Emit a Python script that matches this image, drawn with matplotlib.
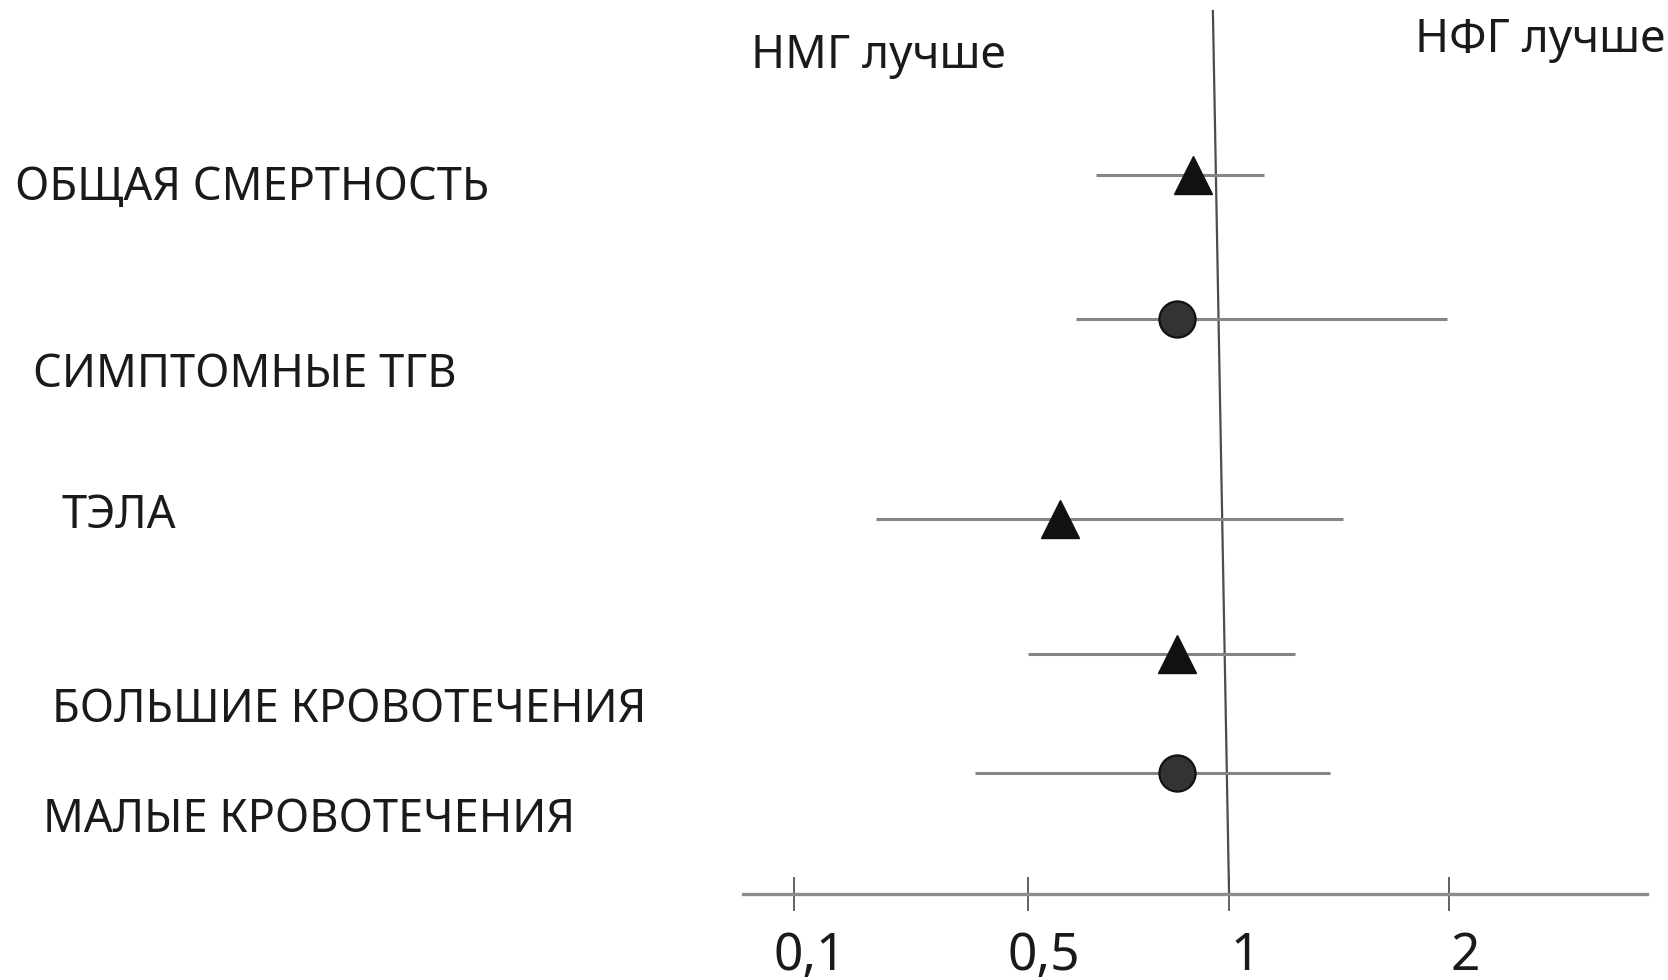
import numpy as np
import matplotlib
matplotlib.use("Agg")
import matplotlib.pyplot as plt
from matplotlib.transforms import ScaledTranslation

plt.rcParams["font.family"] = ["Noto Sans", "DejaVu Sans"]

# data: relative risk with 95% CI
outcomes = [
    "ОБЩАЯ СМЕРТНОСТЬ",
    "СИМПТОМНЫЕ ТГВ",
    "ТЭЛА",
    "БОЛЬШИЕ КРОВОТЕЧЕНИЯ",
    "МАЛЫЕ КРОВОТЕЧЕНИЯ",
]
rr = [0.91, 0.87, 0.58, 0.87, 0.87]
ci_low = [0.67, 0.62, 0.24, 0.50, 0.41]
ci_high = [1.16, 1.99, 1.52, 1.30, 1.46]

tick_values = [0.1, 0.5, 1, 2]
tick_labels = ["0,1", "0,5", "1", "2"]

left_note = "НМГ лучше"
right_note = "НФГ лучше"

# layout (pixels from top of the 1668x980 canvas)
W, H = 1668, 980
row_y = [175, 319, 519, 654, 773]
markers = ["^", "o", "^", "^", "o"]
label_xy = [(15, 200), (33, 387), (61, 528), (52, 722), (43, 832)]
# hand-drawn axis: where each tick sits, in tick-gap units
tick_pos = [0.0, 1.072, 1.993, 3.0]


def _fwd(v):
    # piecewise linear between ticks, extrapolated at the ends
    v = np.asarray(v, dtype=float)
    k = np.asarray(tick_values, dtype=float)
    p = np.asarray(tick_pos, dtype=float)
    out = np.interp(v, k, p)
    out = np.where(v < k[0], p[0] + (v - k[0]) * (p[1] - p[0]) / (k[1] - k[0]), out)
    out = np.where(v > k[-1], p[-1] + (v - k[-1]) * (p[-1] - p[-2]) / (k[-1] - k[-2]), out)
    return out


def _inv(i):
    i = np.asarray(i, dtype=float)
    k = np.asarray(tick_values, dtype=float)
    p = np.asarray(tick_pos, dtype=float)
    out = np.interp(i, p, k)
    out = np.where(i < p[0], k[0] + (i - p[0]) * (k[1] - k[0]) / (p[1] - p[0]), out)
    out = np.where(i > p[-1], k[-1] + (i - p[-1]) * (k[-1] - k[-2]) / (p[-1] - p[-2]), out)
    return out


fig = plt.figure(figsize=(W / 100, H / 100), dpi=100)
ax_x0, ax_x1, ax_top, ax_bot = 743, 1647, 11, 894
ax = fig.add_axes([ax_x0 / W, 1 - ax_bot / H, (ax_x1 - ax_x0) / W, (ax_bot - ax_top) / H])
ax.set_xscale("function", functions=(_fwd, _inv))
ax.set_xlim(_inv(-0.234), _inv(3.908))
ax.set_ylim(ax_bot, ax_top)

for s in ("top", "right", "left"):
    ax.spines[s].set_visible(False)
ax.spines["bottom"].set_color("#8c8c8c")
ax.spines["bottom"].set_linewidth(2.4)
ax.set_yticks([])
ax.set_xticks(tick_values)
ax.set_xticklabels(tick_labels)
ax.tick_params(axis="x", direction="inout", length=25, width=1.3, color="#555555",
               labelsize=37, labelcolor="#1a1a1a", pad=14)
shift = ScaledTranslation(16 / 100, 0, fig.dpi_scale_trans)
for lab in ax.get_xticklabels():
    lab.set_transform(lab.get_transform() + shift)

# line of no effect (slightly slanted as in the source)
ax.plot([1, _inv(1.993 - 0.074)], [ax_bot, ax_top], color="#4d4d4d", lw=1.6, zorder=2, clip_on=False)

ax.hlines(row_y, ci_low, ci_high, color="#858585", lw=2.2, zorder=3)
for y, v, m in zip(row_y, rr, markers):
    if m == "o":
        ax.plot(v, y, marker="o", ms=26, mfc="#333333", mec="#111111", mew=1.6, zorder=4)
    else:
        ax.plot(v, y, marker="^", ms=28, mfc="#111111", mec="#111111", mew=1, zorder=4)

for name, (x, y) in zip(outcomes, label_xy):
    fig.text(x / W, 1 - y / H, name, fontsize=32.5, color="#1a1a1a", ha="left", va="baseline")

fig.text(751 / W, 1 - 68 / H, left_note, fontsize=33, color="#1a1a1a", ha="left", va="baseline")
fig.text(1415 / W, 1 - 52 / H, right_note, fontsize=33, color="#1a1a1a", ha="left", va="baseline")

fig.savefig("out.png", dpi=100, facecolor="white")
